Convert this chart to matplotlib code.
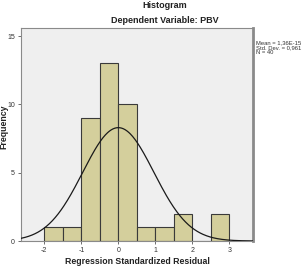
import numpy as np
import matplotlib
matplotlib.use("Agg")
import matplotlib.pyplot as plt

plt.rcParams['font.family'] = ['Liberation Sans', 'DejaVu Sans']

bin_edges = [-2.0, -1.5, -1.0, -0.5, 0.0, 0.5, 1.0, 1.5, 2.0, 2.5, 3.0]
counts = [1, 1, 9, 13, 10, 1, 1, 2, 0, 2]
mean_val = 1.36e-15
std_val = 0.961
n_val = 40
xticks = [-2, -1, 0, 1, 2, 3]
yticks = [0, 5, 10, 15]

fig = plt.figure(figsize=(3.05, 2.7), dpi=100)
ax = fig.add_axes([21/305, 1 - 241/270, (253-21)/305, (241-28)/270])
ax.set_facecolor("#efefef")

lefts = bin_edges[:-1]
widths = np.diff(bin_edges)
ax.bar(lefts, counts, width=widths, align="edge", color="#d4cf9c",
       edgecolor="#3a3a3a", linewidth=0.8, zorder=2)

bw = widths[0]
xs = np.linspace(-2.63, 3.64, 400)
ys = n_val * bw / (std_val * np.sqrt(2 * np.pi)) * np.exp(-0.5 * ((xs - mean_val) / std_val) ** 2)
ax.plot(xs, ys, color="#1a1a1a", linewidth=0.9, zorder=3)

ax.set_xlim(-2.63, 3.64)
ax.set_ylim(0, 15.6)
ax.set_xticks(xticks)
ax.set_xticklabels([str(t) for t in xticks])
ax.set_yticks(yticks)
ax.tick_params(labelsize=5, length=2.5, width=0.6, color="#555555", pad=2, labelcolor="#333333")

for s in ["left", "bottom", "top"]:
    ax.spines[s].set_color("#8a8a8a")
    ax.spines[s].set_linewidth(0.8)
ax.spines["right"].set_color("#8a8a8a")
ax.spines["right"].set_linewidth(2.0)

fig.text(165/305, 1 - 6/270, "Histogram", ha="center", va="center",
         fontsize=6.5, fontweight="bold", color="#222222")
fig.text(165/305, 1 - 21/270, "Dependent Variable: PBV", ha="center", va="center",
         fontsize=6.5, fontweight="bold", color="#222222")
fig.text(137.5/305, 1 - 262/270, "Regression Standardized Residual", ha="center", va="center",
         fontsize=6.3, fontweight="bold", color="#222222")
fig.text(4/305, 1 - 127/270, "Frequency", ha="center", va="center", rotation=90,
         fontsize=6.3, fontweight="bold", color="#222222")
fig.text(256/305, 1 - 48/270,
         "Mean = 1,36E-15\nStd. Dev. = 0,961\nN = %d" % n_val,
         ha="left", va="center", fontsize=4.2, color="#333333", linespacing=1.0)

fig.savefig("out.png", dpi=100)
